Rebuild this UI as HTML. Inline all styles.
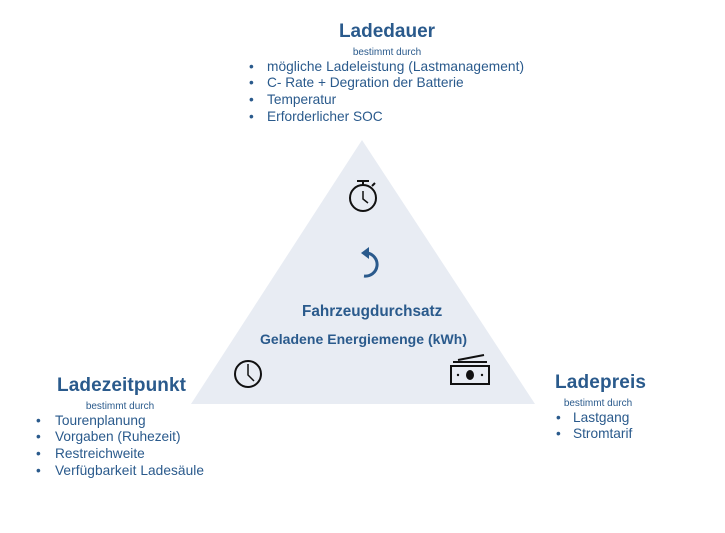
<!DOCTYPE html>
<html><head><meta charset="utf-8"><style>
html,body{margin:0;padding:0;background:#fff;width:725px;height:533px;overflow:hidden}
svg text{font-family:"Liberation Sans",sans-serif;fill:#2a5a8c}
</style></head><body>
<svg width="725" height="533" viewBox="0 0 725 533" xmlns="http://www.w3.org/2000/svg">
<polygon points="362,140 191,404 535,404" fill="#e8ecf3"/>
<text x="387" y="37" font-size="19" font-weight="bold" text-anchor="middle">Ladedauer</text>
<text x="387" y="55" font-size="10" text-anchor="middle">bestimmt durch</text>
<g font-size="13.7">
<text x="249" y="71">•</text><text x="267" y="71" textLength="257">mögliche Ladeleistung (Lastmanagement)</text>
<text x="249" y="87">•</text><text x="267" y="87">C- Rate + Degration der Batterie</text>
<text x="249" y="104">•</text><text x="267" y="104">Temperatur</text>
<text x="249" y="121">•</text><text x="267" y="121">Erforderlicher SOC</text>
</g>
<text x="57" y="391" font-size="19" font-weight="bold" textLength="129">Ladezeitpunkt</text>
<text x="120" y="409" font-size="10" text-anchor="middle">bestimmt durch</text>
<g font-size="13.7">
<text x="36" y="425">•</text><text x="55" y="425">Tourenplanung</text>
<text x="36" y="441">•</text><text x="55" y="441">Vorgaben (Ruhezeit)</text>
<text x="36" y="458">•</text><text x="55" y="458">Restreichweite</text>
<text x="36" y="475">•</text><text x="55" y="475" textLength="149">Verfügbarkeit Ladesäule</text>
</g>
<text x="555" y="388" font-size="19" font-weight="bold" textLength="91">Ladepreis</text>
<text x="598" y="406" font-size="10" text-anchor="middle">bestimmt durch</text>
<g font-size="13.7">
<text x="556" y="422">•</text><text x="573" y="422">Lastgang</text>
<text x="556" y="438">•</text><text x="573" y="438">Stromtarif</text>
</g>
<text x="302" y="316" font-size="15.3" font-weight="bold">Fahrzeugdurchsatz</text>
<text x="260" y="344" font-size="14" font-weight="bold" textLength="207">Geladene Energiemenge (kWh)</text>
<path d="M367,253 A11,11 0 0 1 364,276" fill="none" stroke="#2a5a8c" stroke-width="3"/>
<polygon points="361,253 369,247 369,259" fill="#2a5a8c"/>
<g stroke="#111" fill="none" stroke-width="2">
<circle cx="363" cy="198" r="13"/>
<line x1="363" y1="185" x2="363" y2="181"/>
<line x1="357" y1="181" x2="369" y2="181"/>
<line x1="372" y1="186" x2="375" y2="183"/>
<polyline points="363,191 363,199 368,203" stroke-width="1.5"/>
</g>
<g stroke="#111" fill="none" stroke-width="2">
<circle cx="248" cy="374" r="13"/>
<polyline points="248,364 248,375 254,381" stroke-width="1.5"/>
</g>
<g stroke="#111" fill="none" stroke-width="2">
<rect x="451" y="366" width="38" height="18"/>
<line x1="453" y1="362" x2="487" y2="362"/>
<line x1="458" y1="360" x2="484" y2="355"/>
</g>
<ellipse cx="470" cy="375" rx="4" ry="5" fill="#111"/>
<circle cx="458" cy="375" r="1.2" fill="#111"/><circle cx="482" cy="375" r="1.2" fill="#111"/>
</svg>
</body></html>
